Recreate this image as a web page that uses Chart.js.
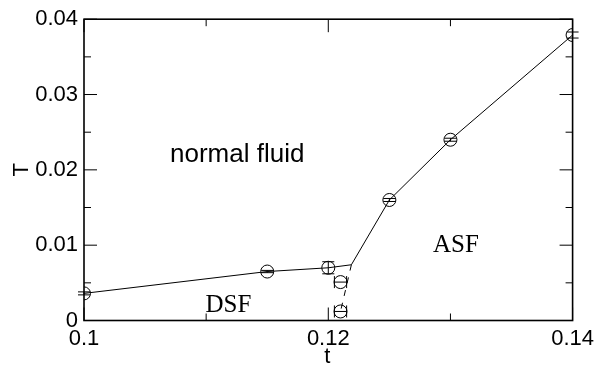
<!DOCTYPE html>
<html>
<head>
<meta charset="utf-8">
<script src="https://cdn.jsdelivr.net/npm/chart.js@4/dist/chart.umd.min.js"></script>
<style>
  html, body { margin: 0; padding: 0; background: #fff; }
  #wrap { width: 599px; height: 366px; }
</style>
</head>
<body>
<div id="wrap"><canvas id="c" width="599" height="366"></canvas></div>
<script>
// ---- data ----
const tVals  = [0.1,    0.115,   0.12,   0.121,  0.121,  0.125, 0.13,   0.14];
const TVals  = [0.0036, 0.0065,  0.0070, 0.0051, 0.0012, 0.016, 0.0240, 0.0379];
const TErr   = [0.0002, 0.00015, 0.0008, 0,      0,      0.0002, 0.0002, 0.0004];
const tErr   = [0,      0,       0,      0.0005, 0.0005, 0,     0,      0];

// solid phase boundary (includes the junction vertex without a marker)
const tLine  = [0.1,    0.115,  0.12,   0.12189, 0.125, 0.13,  0.14];
const TLine  = [0.0036, 0.0065, 0.0070, 0.0074,  0.016, 0.024, 0.0379];
// dashed boundary
const tDash  = [0.12189, 0.1210];
const TDash  = [0.0074,  0.0012];

// axis ticks
const xMajorTicks = [0.1, 0.12, 0.14];
const xMinorTicks = [0.11, 0.13];
const yMajorTicks = [0, 0.01, 0.02, 0.03, 0.04];
const yMinorTicks = [0.005, 0.015, 0.025, 0.035];

// region labels
const regionLabels = ['normal fluid', 'ASF', 'DSF'];
const regionT      = [0.10704, 0.13045, 0.11182];
const regionTemp   = [0.0220,  0.0099,  0.0020];
const regionFont   = ['26px "Liberation Sans", Arial, sans-serif',
                      '25px "Liberation Serif", "Times New Roman", serif',
                      '25px "Liberation Serif", "Times New Roman", serif'];
const regionAlign  = ['left', 'center', 'center'];

const xTitle = 't';
const yTitle = 'T';

const PLOT_LEFT = 84, PLOT_BOTTOM = 320.5;

const fmt = v => String(Number(v.toFixed(4)));

const framePlugin = {
  id: 'frameTicks',
  afterDatasetsDraw(chart) {
    const ctx = chart.ctx, a = chart.chartArea;
    const xs = chart.scales.x, ys = chart.scales.y;
    ctx.save();
    ctx.strokeStyle = '#000';
    ctx.lineWidth = 1;
    const tick = (x1, y1, x2, y2) => { ctx.beginPath(); ctx.moveTo(x1, y1); ctx.lineTo(x2, y2); ctx.stroke(); };
    const MAJ = 13, MIN = 7;
    xMajorTicks.forEach(v => { const p = xs.getPixelForValue(v);
      tick(p, a.bottom, p, a.bottom - MAJ); tick(p, a.top, p, a.top + MAJ); });
    xMinorTicks.forEach(v => { const p = xs.getPixelForValue(v);
      tick(p, a.bottom, p, a.bottom - MIN); tick(p, a.top, p, a.top + MIN); });
    yMajorTicks.forEach(v => { const p = ys.getPixelForValue(v);
      tick(a.left, p, a.left + MAJ, p); tick(a.right, p, a.right - MAJ, p); });
    yMinorTicks.forEach(v => { const p = ys.getPixelForValue(v);
      tick(a.left, p, a.left + MIN, p); tick(a.right, p, a.right - MIN, p); });
    ctx.lineWidth = 1.6;
    ctx.strokeRect(a.left, a.top, a.right - a.left, a.bottom - a.top);
    ctx.restore();
  }
};

const errorBarPlugin = {
  id: 'errBars',
  afterDatasetsDraw(chart) {
    const ctx = chart.ctx, xs = chart.scales.x, ys = chart.scales.y;
    const CAP = 6;
    ctx.save();
    ctx.strokeStyle = '#000';
    ctx.lineWidth = 1;
    const seg = (x1, y1, x2, y2) => { ctx.beginPath(); ctx.moveTo(x1, y1); ctx.lineTo(x2, y2); ctx.stroke(); };
    tVals.forEach((t, i) => {
      const px = xs.getPixelForValue(t), py = ys.getPixelForValue(TVals[i]);
      if (TErr[i] > 0) {
        const y1 = ys.getPixelForValue(TVals[i] + TErr[i]);
        const y2 = ys.getPixelForValue(TVals[i] - TErr[i]);
        seg(px, y1, px, y2);
        seg(px - CAP, y1, px + CAP, y1);
        seg(px - CAP, y2, px + CAP, y2);
      }
      if (tErr[i] > 0) {
        const x1 = xs.getPixelForValue(t - tErr[i]);
        const x2 = xs.getPixelForValue(t + tErr[i]);
        seg(x1, py, x2, py);
        seg(x1, py - CAP, x1, py + CAP);
        seg(x2, py - CAP, x2, py + CAP);
      }
    });
    ctx.restore();
  }
};

const textPlugin = {
  id: 'texts',
  afterDraw(chart) {
    const ctx = chart.ctx, xs = chart.scales.x, ys = chart.scales.y, a = chart.chartArea;
    ctx.save();
    ctx.fillStyle = '#000';
    ctx.textBaseline = 'middle';
    regionLabels.forEach((s, i) => {
      ctx.font = regionFont[i];
      ctx.textAlign = regionAlign[i];
      ctx.fillText(s, xs.getPixelForValue(regionT[i]), ys.getPixelForValue(regionTemp[i]));
    });
    // axis titles
    ctx.font = '22px "Liberation Sans", Arial, sans-serif';
    ctx.textAlign = 'center';
    ctx.textBaseline = 'alphabetic';
    ctx.fillText(xTitle, (a.left + a.right) / 2 - 1, 363);
    ctx.save();
    ctx.translate(28, (a.top + a.bottom) / 2);
    ctx.rotate(-Math.PI / 2);
    ctx.textBaseline = 'alphabetic';
    ctx.fillText(yTitle, 0, 0);
    ctx.restore();
    ctx.restore();
  }
};

const tickFont = { family: '"Liberation Sans", Arial, sans-serif', size: 22 };

new Chart(document.getElementById('c'), {
  type: 'scatter',
  data: {
    datasets: [
      {
        label: 'boundary',
        data: tLine.map((t, i) => ({ x: t, y: TLine[i] })),
        showLine: true, borderColor: '#000', borderWidth: 1,
        pointRadius: 0, fill: false, tension: 0
      },
      {
        label: 'dashed',
        data: tDash.map((t, i) => ({ x: t, y: TDash[i] })),
        showLine: true, borderColor: '#000', borderWidth: 1, borderDash: [6, 7],
        pointRadius: 0, fill: false, tension: 0
      },
      {
        label: 'points',
        data: tVals.map((t, i) => ({ x: t, y: TVals[i] })),
        showLine: false, pointStyle: 'circle', pointRadius: 6.5,
        pointBorderColor: '#000', pointBorderWidth: 1,
        pointBackgroundColor: 'rgba(0,0,0,0)'
      }
    ]
  },
  options: {
    responsive: false,
    animation: false,
    layout: { padding: { top: 16.5, right: 21, left: 0, bottom: 0 } },
    plugins: { legend: { display: false }, tooltip: { enabled: false } },
    scales: {
      x: {
        type: 'linear', min: 0.1, max: 0.14,
        grid: { display: false, drawTicks: false },
        border: { display: false },
        ticks: { stepSize: 0.02, color: '#000', font: tickFont, padding: 5,
                 maxRotation: 0, autoSkip: false, callback: v => fmt(v) },
        afterFit: s => { s.height = 366 - PLOT_BOTTOM; }
      },
      y: {
        type: 'linear', min: 0, max: 0.04,
        grid: { display: false, drawTicks: false },
        border: { display: false },
        ticks: { stepSize: 0.01, color: '#000', font: tickFont, padding: 6,
                 autoSkip: false, callback: v => fmt(v) },
        afterFit: s => { s.width = PLOT_LEFT; }
      }
    }
  },
  plugins: [framePlugin, errorBarPlugin, textPlugin]
});
</script>
</body>
</html>
